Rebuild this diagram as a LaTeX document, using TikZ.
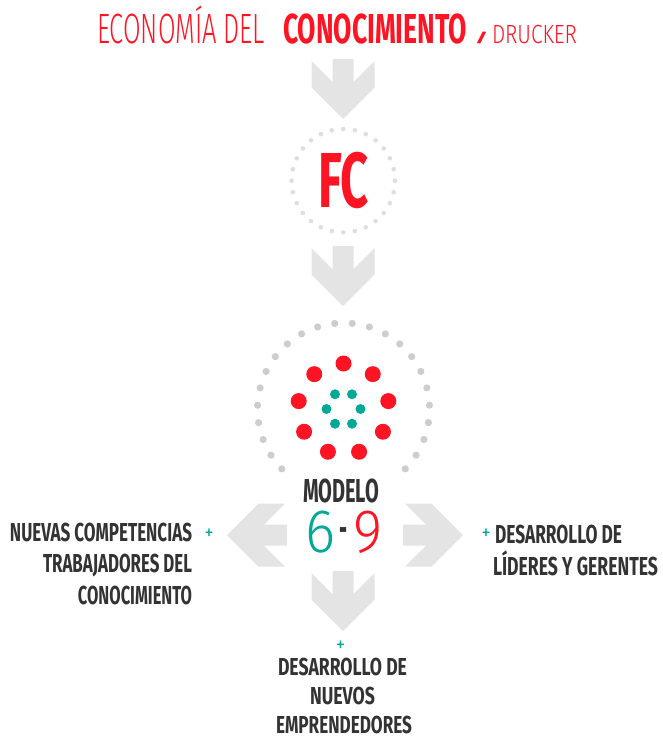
\documentclass[tikz,border=0pt]{standalone}
\usepackage{fontspec}
\setmainfont{Fira Sans}
\newfontfamily\lightfont{Fira Sans Light}
\usetikzlibrary{calc,positioning}

\definecolor{fcred}{HTML}{FF1424}
\definecolor{fcteal}{HTML}{00A896}
\definecolor{fcdark}{HTML}{333333}
\definecolor{arrowgrey}{HTML}{E4E4E4}
\definecolor{ringgrey}{HTML}{CDCDCD}
\definecolor{ringlight}{HTML}{DEDEDE}

% squeeze a line of caps to a given width and cap height
\newcommand\fitw[3]{\resizebox{#1}{#2}{\vphantom{H}\smash{#3}}}

\tikzset{
  txt/.style={inner sep=0pt, outer sep=0pt},
  heavy/.style={txt, font=\bfseries\fontsize{#1}{#1}\selectfont},
  thin/.style={txt, font=\lightfont\fontsize{#1}{#1}\selectfont},
  plus/.style={txt, text=fcteal, font=\fontsize{18}{18}\selectfont},
  bigarrow/.pic={
    \fill[arrowgrey] (-10.5,0) -- (10.5,0) -- (10.5,23) -- (31.5,2) -- (31.5,28.5)
      -- (0,60) -- (-31.5,28.5) -- (-31.5,2) -- (-10.5,23) -- cycle;
  }
}

\begin{document}
\begin{tikzpicture}[x=1pt, y=-1pt]
    \useasboundingbox (0,0) rectangle (662,739);

    % title
    \node[thin=42, text=fcred, anchor=base west] (econ) at (97,43) {\fitw{168pt}{29pt}{ECONOMÍA DEL}};
    \node[heavy=42, text=fcred, anchor=base west] (conoc) at (283,43) {\fitw{184pt}{29pt}{CONOCIMIENTO}};
    \node[heavy=14, text=fcred, anchor=base west] (slash) at (475,42) {\fitw{13pt}{9pt}{/}};
    \node[thin=26, text=fcred, anchor=base west] (drucker) at (492,43) {\fitw{85pt}{18pt}{DRUCKER}};

    \pic at (343,59) {bigarrow};

    % FC
    \coordinate (fc) at (343.3,180.7);
    \foreach \k in {0,...,27}
      \fill[ringlight] ($(fc)+(\k*360/28:51.7)$) circle (2.3pt);
    \node[heavy=78, text=fcred, anchor=base] (fctext) at (343.5,207) {\fitw{51pt}{54pt}{FC}};

    \pic at (343,246) {bigarrow};

    % model
    \coordinate (model) at (343.5,409);
    \foreach \k in {0,...,23}
      \fill[ringgrey] ($(model)+(135.9+\k*11.66:86)$) circle (3.6pt);
    \foreach \k in {0,...,8}
      \fill[fcred] ($(model)+(-90+\k*40:45.5)$) circle (8pt);
    \foreach \k in {0,...,5}
      \fill[fcteal] ($(model)+(\k*60:17)$) circle (5pt);

    \pic[rotate=-90] at (287,535) {bigarrow};
    \pic[rotate=90] at (403,535) {bigarrow};
    \pic at (343,571) {bigarrow};

    \node[heavy=33, text=fcdark, anchor=base west] (modelo) at (303,502) {\fitw{76pt}{23pt}{MODELO}};
    \node[thin=61, text=fcteal, anchor=base west] (six) at (305,552) {\fitw{30pt}{42pt}{6}};
    \node[heavy=40, text=fcdark, anchor=base] (dash) at (343,542) {\resizebox{8pt}{\height}{-}};
    \node[thin=61, text=fcred, anchor=base west] (nine) at (353,552) {\fitw{29pt}{42pt}{9}};

    % left
    \node[heavy=26, text=fcdark, anchor=base east] (nuevas) at (192,541) {\fitw{182pt}{18pt}{NUEVAS COMPETENCIAS}};
    \node[plus] (plusl) at (209,534) {\resizebox{9pt}{10.5pt}{+}};
    \node[heavy=26, text=fcdark, anchor=base east] (trab) at (192,572) {\fitw{149pt}{18pt}{TRABAJADORES DEL}};
    \node[heavy=26, text=fcdark, anchor=base east] (conocl) at (192,604) {\fitw{114pt}{18pt}{CONOCIMIENTO}};

    % right
    \node[plus] (plusr) at (486,534) {\resizebox{9pt}{10.5pt}{+}};
    \node[heavy=26, text=fcdark, anchor=base west] (desar) at (495,543) {\fitw{127pt}{18pt}{DESARROLLO DE}};
    \node[heavy=26, text=fcdark, anchor=base west] (lider) at (493,575) {\fitw{165pt}{18pt}{LÍDERES Y GERENTES}};

    % bottom
    \node[plus] (plusb) at (340.5,646) {\resizebox{9pt}{10.5pt}{+}};
    \node[heavy=25, text=fcdark, anchor=base] (desab) at (342.5,675) {\fitw{129pt}{17pt}{DESARROLLO DE}};
    \node[heavy=25, text=fcdark, anchor=base] (nuevos) at (342.5,704) {\fitw{65pt}{17pt}{NUEVOS}};
    \node[heavy=25, text=fcdark, anchor=base] (empr) at (344,733) {\fitw{136pt}{17pt}{EMPRENDEDORES}};
\end{tikzpicture}
\end{document}
